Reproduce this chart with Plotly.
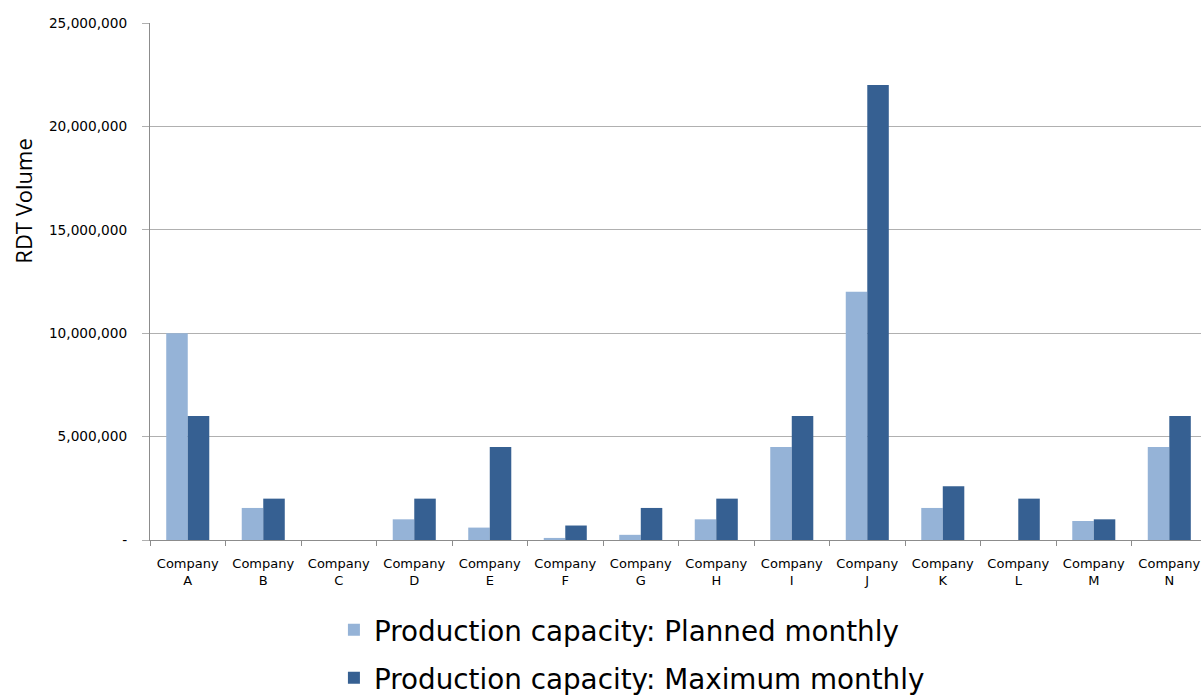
import plotly.graph_objects as go

companies = ["A", "B", "C", "D", "E", "F", "G", "H", "I", "J", "K", "L", "M", "N"]
planned = [10000000, 1550000, 0, 1000000, 600000, 100000, 250000, 1000000,
           4500000, 12000000, 1550000, 0, 920000, 4500000]
maximum = [6000000, 2000000, 0, 2000000, 4500000, 700000, 1550000, 2000000,
           6000000, 22000000, 2600000, 2000000, 1000000, 6000000]
y_ticks = [0, 5000000, 10000000, 15000000, 20000000, 25000000]
y_labels = ["-", "5,000,000", "10,000,000", "15,000,000", "20,000,000", "25,000,000"]

cats = [f"Company<br>{c}" for c in companies]

fig = go.Figure()
fig.add_trace(go.Bar(x=cats, y=planned, name="Production capacity: Planned monthly",
                     legendgroup="p", marker=dict(color="#95b3d7", line=dict(width=0))))
fig.add_trace(go.Bar(x=cats, y=maximum, name="Production capacity: Maximum monthly",
                     legendgroup="m", marker=dict(color="#366092", line=dict(width=0))))

fig.update_layout(
    width=1201, height=695,
    margin=dict(l=150, r=0, t=23, b=155, autoexpand=False),
    paper_bgcolor="white", plot_bgcolor="white",
    barmode="group", bargap=0.43, bargroupgap=0,
    font=dict(family="DejaVu Sans", color="#000000"),
    showlegend=True,
    legend=dict(x=0.175, y=-0.126, xanchor="left", yanchor="top",
                orientation="v", font=dict(family="DejaVu Sans", size=27.8),
                tracegroupgap=9, bgcolor="rgba(0,0,0,0)"),
)
fig.update_xaxes(
    range=[-0.5, 13.42], showline=True, linecolor="#8c8c8c", linewidth=1,
    ticks="outside", tickson="boundaries", ticklen=5, tickcolor="#8c8c8c",
    tickfont=dict(size=13, family="DejaVu Sans"), tickangle=0, showgrid=False,
    ticklabelstandoff=11,
)
fig.update_yaxes(
    range=[0, 25000000], tickvals=y_ticks, ticktext=y_labels,
    showline=True, linecolor="#8c8c8c", linewidth=1,
    ticks="outside", ticklen=7, tickcolor="#b0b0b0",
    showgrid=True, gridcolor="#b0b0b0", gridwidth=1,
    tickfont=dict(size=13.7, family="DejaVu Sans"), zeroline=False,
    ticklabelstandoff=12,
)
fig.add_annotation(text="RDT Volume", xref="paper", yref="paper", x=-0.121, y=0.656,
                   xanchor="center", yanchor="middle",
                   textangle=-90, showarrow=False,
                   font=dict(size=22, family="Open Sans"))

fig.write_html("out.html", config={"displayModeBar": False},
               post_script="document.body.style.margin='0';")
